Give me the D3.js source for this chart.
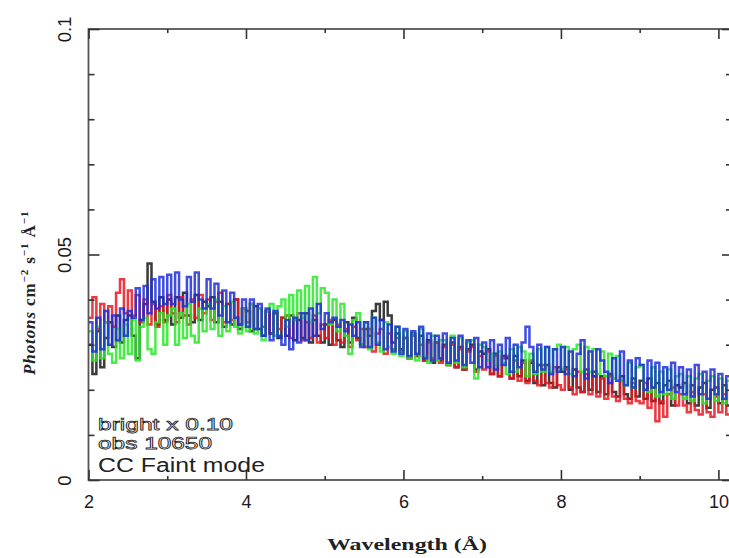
<!DOCTYPE html>
<html>
<head>
<meta charset="utf-8">
<script src="https://cdn.jsdelivr.net/npm/d3@7"></script>
<style>
  body { margin: 0; background: #fff; }
  svg { display: block; }
</style>
</head>
<body>
<div class="chart"></div>
<script>
// flux in units of 1e-3 photons cm^-2 s^-1 A^-1, one value per 0.05 A bin starting at 2.0 A
let binStart = 2.0;
let binWidth = 0.05;

let redFlux = [
    36, 40.5, 33.5, 39, 35, 38.5, 34, 41.5, 44.5, 37,
    42, 36.5, 41, 35, 40, 34.5, 39, 34, 38.5, 35,
    41, 37, 35, 40.5, 36.5, 34.5, 40, 36, 41, 37,
    40, 35.5, 39.5, 41.5, 35, 39, 35.5, 40, 34.5, 38,
    35, 39, 33.5, 38, 34, 37.5, 32.5, 37, 33.5, 36,
    36.5, 31.5, 35.5, 37, 31, 35, 31.5, 36.5, 30.5, 34.5,
    31.5, 35.5, 30, 34.5, 30.5, 33.5, 29.5, 34, 31, 33.5,
    29.5, 33.5, 28.5, 32.5, 33.5, 28, 32.5, 29, 31.5, 28.5,
    31.5, 27, 32, 27.5, 30, 26.5, 30.5, 27, 30.5, 26,
    29.5, 25.5, 30, 25, 29, 24.5, 28.5, 29.5, 24, 27.5,
    24.5, 28.5, 23.5, 27.5, 23, 27, 27.5, 22.5, 26.5, 22,
    26, 21.5, 26.5, 22, 21, 25.5, 21.5, 20.5, 25, 21,
    20, 24.5, 20.5, 19, 24, 19.5, 23.5, 19, 23, 18.5,
    22.5, 18, 23, 18.5, 17.5, 22, 18, 17, 21.5, 17.5,
    17, 21.5, 16, 20.5, 13, 17.5, 14, 19, 20.5, 16.5,
    19, 16.5, 15, 19.5, 15.5, 14.5, 19, 15, 14, 18.5,
    15, 19, 14.5, 18.5
];

let greenFlux = [
    33, 26.5, 34, 27, 35, 28, 26, 33.5, 27, 34.5,
    28, 35.5, 26.5, 34, 36, 29, 28, 35, 37, 30,
    36.5, 38, 30, 37, 31.5, 39, 32, 30.5, 38, 33,
    39, 33.5, 40, 32, 38.5, 33, 39.5, 34, 32.5, 38,
    33, 39, 32.5, 38, 31, 37.5, 39, 32, 38.5, 40,
    34, 41, 35.5, 42, 36, 43, 35, 45, 37, 42.5,
    41.5, 34.5, 40, 33, 39, 32, 28, 35.5, 37, 30,
    35, 29, 36, 30.5, 28.5, 35, 29.5, 28, 34, 27.5,
    33, 27, 32.5, 26.5, 33.5, 27.5, 26, 32, 26.5, 31,
    31, 25.5, 32, 26, 31.5, 25, 30.5, 31, 22.5, 30,
    29.5, 26.5, 28, 25.5, 28.5, 26, 23.5, 29, 24, 29.5,
    28.5, 23, 28, 23.5, 29, 24, 29.5, 24, 29, 30,
    24.5, 29.5, 23.5, 29, 30, 24, 29.5, 24, 29, 23.5,
    28.5, 23, 28, 22.5, 27.5, 22, 21, 26, 20.5, 25,
    25.5, 20, 19.5, 25, 18.5, 24, 19, 24.5, 18, 23,
    23.5, 18, 23, 17.5, 22.5, 23.5, 17, 22, 23, 17.5,
    22.5, 17, 22, 17.5
];

let blueFlux = [
    35, 28.5, 36, 29, 37.5, 30, 36.5, 31, 38, 32,
    37.5, 36, 42.5, 35.5, 43, 37, 44.5, 38, 45, 39,
    45.5, 39, 46, 40, 38.5, 45, 39.5, 46, 40, 38,
    44.5, 38, 43.5, 36.5, 42, 35, 41.5, 36, 34.5, 40,
    34, 40, 33.5, 39, 32, 38, 31, 37.5, 32, 30,
    35.5, 29, 36, 30.5, 37, 31, 38, 32, 39, 33.5,
    37, 35, 36, 34, 35.5, 33, 34.5, 32, 35, 29.5,
    35, 29.5, 36, 30, 35.5, 29, 34.5, 28.5, 34, 28,
    33.5, 27.5, 33, 28, 34, 27, 32.5, 26.5, 32, 27,
    32.5, 26, 31.5, 26.5, 32, 25.5, 31, 26, 31.5, 25,
    30.5, 25, 31, 24.5, 30, 25.5, 31.5, 24, 30, 25,
    30.5, 34, 29.5, 24, 30, 24.5, 29.5, 23.5, 29, 24,
    29.5, 23.5, 28.5, 23, 28, 31, 22.5, 28.5, 23, 29,
    26.5, 24, 21.5, 27, 22, 28.5, 21, 26.5, 20.5, 27,
    25.5, 20, 26.5, 20.5, 26, 19.5, 25, 20, 26, 19.5,
    25, 19, 24.5, 18.5, 25.5, 19, 24, 18, 24.5, 19,
    23.5, 18, 23, 18.5
];

let blackFlux = [
    30, 23.5, 33, 25, 31.5, 35, 29.5, 36.5, 30.5, 35.5,
    36.5, 32, 27, 35.5, 39, 48, 39.5, 34.5, 40.5, 35.5,
    40, 34.5, 40.5, 36, 41.5, 36.5, 35, 41, 35.5, 39.5,
    38.5, 40.5, 35, 39.5, 34, 39, 34.5, 40, 33.5, 38,
    37.5, 33, 38.5, 33.5, 32, 37.5, 32.5, 37, 31.5, 36,
    32, 36.5, 31, 35.5, 31.5, 37, 30.5, 35.5, 32, 30.5,
    34.5, 30, 35.5, 31, 29.5, 35, 30.5, 36, 31.5, 30,
    33.5, 32, 37.5, 39, 35.5, 39.5, 36.5, 30.5, 32.5, 29,
    31.5, 27, 32.5, 27.5, 32, 26.5, 31, 26, 30.5, 26.5,
    30, 25.5, 30.5, 25, 29.5, 24.5, 29, 30, 24.5, 28.5,
    28, 29, 23.5, 28, 23, 27.5, 27, 22.5, 27.5, 23,
    26.5, 22, 26, 21.5, 25.5, 21, 25.5, 21.5, 20.5, 25,
    24, 25, 20, 24.5, 20.5, 19.5, 24.5, 20, 24, 19.5,
    23, 19, 23.5, 19.5, 18.5, 23, 19, 18, 22.5, 18.5,
    22, 18, 22.5, 17.5, 21.5, 17, 21, 22, 16.5, 21,
    20.5, 21.5, 17, 21, 16.5, 20.5, 21.5, 16, 20, 20.5,
    17, 21, 16.5, 20.5
];

let series = [
    { name: "black", color: "#151515", values: blackFlux },
    { name: "red", color: "#e8141c", values: redFlux },
    { name: "green", color: "#2ae62a", values: greenFlux },
    { name: "blue", color: "#1c2fdc", values: blueFlux }
];

let xMajorTicks = [2, 4, 6, 8, 10];
let xMinorTicks = [3, 5, 7, 9];
let yMajorTicks = [0, 0.05, 0.1];
let yMinorTicks = [0.01, 0.02, 0.03, 0.04, 0.06, 0.07, 0.08, 0.09];
let yTickLabels = ["0", "0.05", "0.1"];
let noteLines = ["bright x 0.10", "obs 10650", "CC Faint mode"];

let svgWidth = 729;
let svgHeight = 558;

let margin = { top: 29, right: -2, bottom: 78, left: 88.5 };
let width = svgWidth - margin.left - margin.right;
let height = svgHeight - margin.top - margin.bottom;

let svg = d3.select(".chart")
    .append("svg")
    .attr("width", svgWidth)
    .attr("height", svgHeight);

let defs = svg.append("defs");
defs.append("filter")
    .attr("id", "soft")
    .append("feGaussianBlur")
    .attr("stdDeviation", 0.7);

let chartGroup = svg.append("g")
    .attr("transform", `translate(${margin.left}, ${margin.top})`);

let xScale = d3.scaleLinear()
    .domain([2, 10.16])
    .range([0, width]);

let yScale = d3.scaleLinear()
    .domain([0, 0.1])
    .range([height, 0]);

// spectra as histograms
let line = d3.line()
    .x((d, i) => xScale(binStart + i * binWidth))
    .y(d => yScale(d / 1000))
    .curve(d3.curveStepAfter);

let dataGroup = chartGroup.append("g")
    .attr("filter", "url(#soft)");

dataGroup.selectAll("path")
    .data(series)
    .enter()
    .append("path")
    .attr("d", d => line(d.values))
    .attr("fill", "none")
    .attr("stroke", d => d.color)
    .attr("stroke-width", 2.5)
    .attr("stroke-opacity", 0.85);

// frame
chartGroup.append("rect")
    .attr("x", 0)
    .attr("y", 0)
    .attr("width", width)
    .attr("height", height)
    .attr("fill", "none")
    .attr("stroke", "#555")
    .attr("stroke-width", 1.8);

function tickAxis(axis, ticks, size) {
    return axis.tickValues(ticks).tickSize(size).tickFormat("");
}

function styleAxis(g) {
    g.select(".domain").remove();
    g.selectAll(".tick line").attr("stroke", "#333").attr("stroke-width", 1.6);
}

// x axes (bottom and top), ticks pointing in
chartGroup.append("g")
    .attr("transform", `translate(0, ${height})`)
    .call(tickAxis(d3.axisBottom(xScale), xMinorTicks, -4))
    .call(styleAxis);

let xAxis = chartGroup.append("g")
    .attr("transform", `translate(0, ${height})`)
    .call(d3.axisBottom(xScale).tickValues(xMajorTicks).tickSize(-10).tickPadding(15).tickFormat(d3.format("d")))
    .call(styleAxis);

xAxis.selectAll("text")
    .attr("font-family", "Liberation Sans, Arial, sans-serif")
    .attr("font-size", 18)
    .attr("fill", "#1a1a1a");

chartGroup.append("g")
    .call(tickAxis(d3.axisTop(xScale), xMinorTicks, -4))
    .call(styleAxis);

chartGroup.append("g")
    .call(tickAxis(d3.axisTop(xScale), xMajorTicks, -10))
    .call(styleAxis);

// y axes (left and right)
chartGroup.append("g")
    .call(tickAxis(d3.axisLeft(yScale), yMinorTicks, -6))
    .call(styleAxis);

let yAxis = chartGroup.append("g")
    .call(d3.axisLeft(yScale).tickValues(yMajorTicks).tickSize(-11).tickFormat((d, i) => yTickLabels[i]))
    .call(styleAxis);

yAxis.selectAll("text")
    .attr("transform", "rotate(-90)")
    .attr("x", 0)
    .attr("y", -23.5)
    .attr("dy", "0.35em")
    .attr("text-anchor", "middle")
    .attr("font-family", "Liberation Sans, Arial, sans-serif")
    .attr("font-size", 18.5)
    .attr("fill", "#1a1a1a");

chartGroup.append("g")
    .attr("transform", `translate(${width}, 0)`)
    .call(tickAxis(d3.axisRight(yScale), yMinorTicks, -5))
    .call(styleAxis);

chartGroup.append("g")
    .attr("transform", `translate(${width}, 0)`)
    .call(tickAxis(d3.axisRight(yScale), yMajorTicks, -9))
    .call(styleAxis);

// notes in the lower left corner
let notes = svg.append("g")
    .attr("font-family", "Liberation Sans, Arial, sans-serif");

notes.append("text")
    .attr("x", 98)
    .attr("y", 430)
    .attr("font-size", 17)
    .attr("textLength", 135)
    .attr("lengthAdjust", "spacingAndGlyphs")
    .attr("fill", "none")
    .attr("stroke", "#222")
    .attr("stroke-width", 0.75)
    .text(noteLines[0]);

notes.append("text")
    .attr("x", 98)
    .attr("y", 449)
    .attr("font-size", 17)
    .attr("textLength", 114)
    .attr("lengthAdjust", "spacingAndGlyphs")
    .attr("fill", "none")
    .attr("stroke", "#222")
    .attr("stroke-width", 0.75)
    .text(noteLines[1]);

notes.append("text")
    .attr("x", 98)
    .attr("y", 472)
    .attr("font-size", 20)
    .attr("textLength", 167)
    .attr("lengthAdjust", "spacingAndGlyphs")
    .attr("fill", "#222")
    .text(noteLines[2]);

// axis titles
svg.append("text")
    .attr("x", 327)
    .attr("y", 550)
    .attr("font-family", "Liberation Serif, Times New Roman, serif")
    .attr("font-weight", "bold")
    .attr("font-size", 17)
    .attr("textLength", 160)
    .attr("lengthAdjust", "spacingAndGlyphs")
    .attr("fill", "#222")
    .text("Wavelength (Å)");

let yTitle = svg.append("text")
    .attr("transform", "translate(35, 375) rotate(-90)")
    .attr("font-family", "Liberation Serif, Times New Roman, serif")
    .attr("font-weight", "bold")
    .attr("font-size", 17)
    .attr("letter-spacing", 0.9)
    .attr("fill", "#222");

yTitle.append("tspan").attr("font-style", "italic").text("Photons");
yTitle.append("tspan").text(" cm");
yTitle.append("tspan").attr("font-size", 11).attr("dy", -7).text("−2");
yTitle.append("tspan").attr("dy", 7).text(" s");
yTitle.append("tspan").attr("font-size", 11).attr("dy", -7).text("−1");
yTitle.append("tspan").attr("dy", 7).text(" Å");
yTitle.append("tspan").attr("font-size", 11).attr("dy", -7).text("−1");
</script>
</body>
</html>
